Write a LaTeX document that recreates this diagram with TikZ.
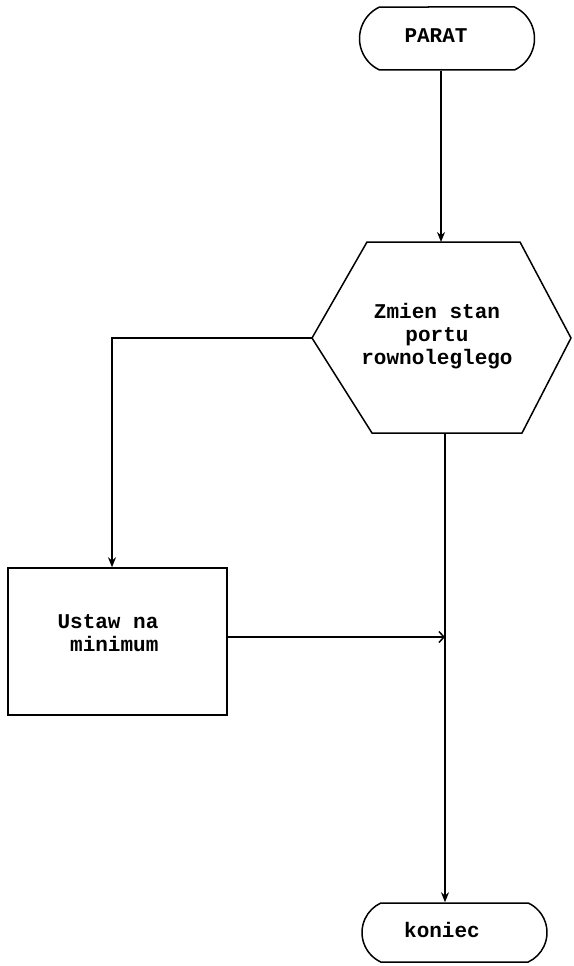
\documentclass[tikz,border=0pt]{standalone}
\usepackage{fontspec}
\setmonofont{Liberation Mono}
\usetikzlibrary{arrows.meta,shapes.misc}
\begin{document}
\begin{tikzpicture}[x=1pt,y=-1pt,
  line width=1.5pt,
  lbl/.style={font=\ttfamily\bfseries\fontsize{21}{23}\selectfont, inner sep=0pt},
  term/.style={draw, rounded rectangle, rounded rectangle arc length=130, inner sep=0pt},
  box/.style={draw, rectangle, inner sep=0pt},
  arr/.style={-{Stealth[length=10pt,width=8pt]}},
  barb/.style={-{Straight Barb[length=5pt,width=11pt]}}]
\useasboundingbox (0,0) rectangle (573,966);
% start terminal
\node[term, minimum width=175pt, minimum height=63pt] (start) at (447,38.5) {};
\node[lbl] (startt) at (436,36) {PARAT};
% hexagon
\coordinate (hTL) at (367,242);
\coordinate (hTR) at (520,242);
\coordinate (hR) at (571,338);
\coordinate (hBR) at (522,433);
\coordinate (hBL) at (372,433);
\coordinate (hL) at (312,338);
\draw (hTL) -- (hTR) -- (hR) -- (hBR) -- (hBL) -- (hL) -- cycle;
\node[lbl, align=center] (hex) at (437,336) {Zmien stan\\portu\\rownoleglego};
\coordinate (hIn) at (441,242);
\coordinate (hOut) at (445,433);
% rectangle
\node[box, minimum width=219pt, minimum height=147pt] (rect) at (117.5,641.5) {};
\node[lbl, align=left] (rectt) at (108,633) {Ustaw na\\\ minimum};
% end terminal
\node[term, minimum width=185pt, minimum height=59pt] (end) at (454.5,932.5) {};
\node[lbl] (endt) at (442,930) {koniec};
\coordinate (join) at (445,637);
% connectors
\draw[arr] (start.south -| hIn) -- (hIn);
\draw[arr] (hL) -| (rect.north -| 112,0);
\draw[arr] (hOut) -- (end.north -| hOut);
\draw[barb] (rect.east |- join) -- (join);
\end{tikzpicture}
\end{document}
